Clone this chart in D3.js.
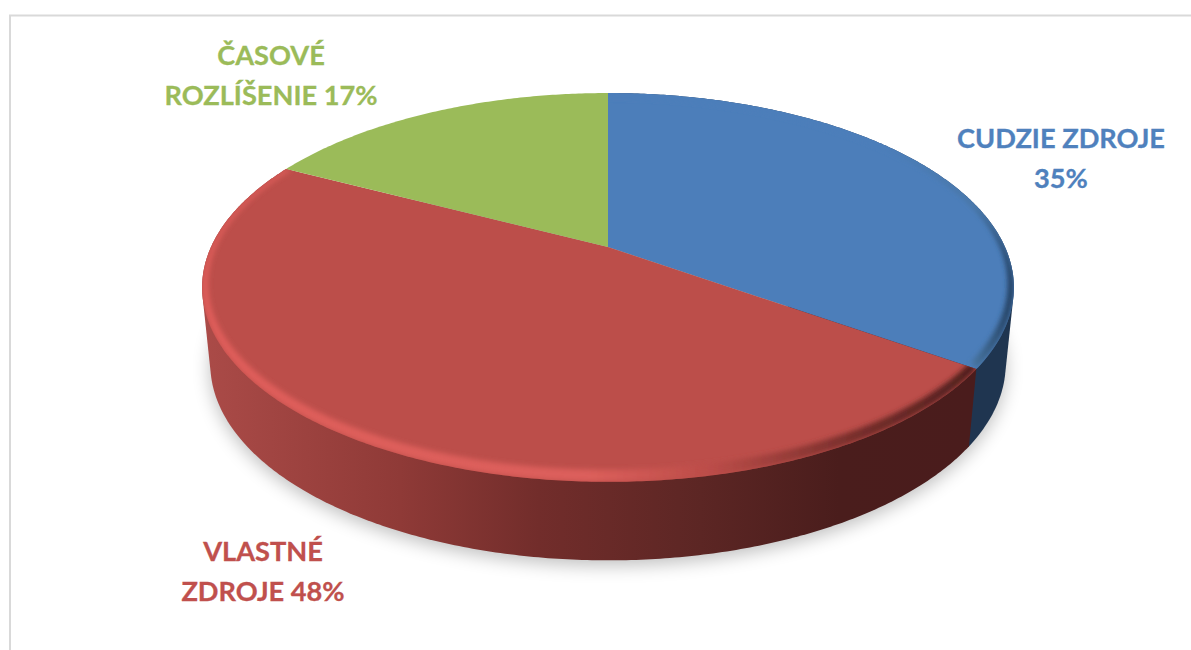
<!DOCTYPE html>
<html>
<head>
<meta charset="utf-8">
<script src="https://cdn.jsdelivr.net/npm/d3@7"></script>
<style>
  html, body { margin: 0; padding: 0; background: #fff; overflow: hidden; }
  text { font-family: Lato, "Open Sans", sans-serif; font-weight: 700; font-size: 27.2px; text-anchor: middle; stroke-width: 0.3px; }
</style>
</head>
<body>
<div id="chart-container"></div>
<script>
const categories = ["CUDZIE ZDROJE", "VLASTNÉ ZDROJE", "ČASOVÉ ROZLÍŠENIE"];
const values = [34.8, 47.8, 17.4];
const labelLines = [["CUDZIE ZDROJE", "35%"], ["VLASTNÉ", "ZDROJE 48%"], ["ČASOVÉ", "ROZLÍŠENIE 17%"]];

const colors = ["#4c7eba", "#bc4e4a", "#9bbb59"];
const textColors = ["#4f81bd", "#c0504d", "#9bbb59"];
const labelPos = [[1061, 148], [263, 561], [271, 65]];

const width = 1191, height = 650;

const svg = d3.select("#chart-container").append("svg")
  .attr("width", width)
  .attr("height", height);

const defs = svg.append("defs");

// chart frame, runs off the page on the right and bottom
svg.append("rect")
  .attr("x", 10).attr("y", 15.5)
  .attr("width", width + 20).attr("height", height + 20)
  .attr("fill", "#fff")
  .attr("stroke", "#d9d9d9")
  .attr("stroke-width", 2);

// disk seen in perspective: v runs from back (-1) to front (1)
const persp = 0.208;
const topDisk = { x: 608, y: 247, a: 397, b: 186 };
const innerDisk = { x: 608, y: 245, a: 391, b: 178 };
const bottomDisk = { x: 608, y: 323, a: 389, b: 188 };

function project(disk, angle) {
  const u = Math.sin(angle), v = -Math.cos(angle);
  const w = 1 - persp * v;
  return [disk.x + disk.a * u / w, disk.y + disk.b * v / w];
}

function rim(disk, a0, a1) {
  const n = Math.max(2, Math.ceil((a1 - a0) / 0.01));
  return d3.range(n + 1).map(i => project(disk, a0 + (a1 - a0) * i / n));
}

const line = d3.line();
const arcs = d3.pie().sort(null).value(d => d)(values);

function gradient(id, x1, x2, stops) {
  const g = defs.append("linearGradient")
    .attr("id", id)
    .attr("gradientUnits", "userSpaceOnUse")
    .attr("x1", x1).attr("x2", x2).attr("y1", 0).attr("y2", 0);
  stops.forEach(s => g.append("stop").attr("offset", s[0]).attr("stop-color", s[1]));
}

gradient("wall-1", 200, 970, [[0, "#ab4b48"], [0.26, "#8f3a37"], [0.44, "#722d2b"], [0.65, "#5c2624"], [0.83, "#4a1d1c"], [1, "#4a1c1c"]]);
gradient("rim-1", 200, 975, [[0, "#df5d5a"], [0.5, "#dc5f5b"], [0.66, "#bb4c48"], [0.85, "#752d2a"], [1, "#4e1e1d"]]);
gradient("rim-0", 880, 1014, [[0, "#4c7eba"], [0.7, "#47749f"], [1, "#1f3a5a"]]);

defs.append("filter").attr("id", "soft")
  .attr("x", "-10%").attr("y", "-10%").attr("width", "120%").attr("height", "120%")
  .append("feGaussianBlur").attr("stdDeviation", 9);
defs.append("filter").attr("id", "bevel")
  .attr("x", "-10%").attr("y", "-10%").attr("width", "120%").attr("height", "120%")
  .append("feGaussianBlur").attr("stdDeviation", 2.4);

// soft shadow under the pie
svg.append("path")
  .attr("d", line(rim(bottomDisk, 0, 2 * Math.PI)) + "Z")
  .attr("transform", "translate(0,5)")
  .attr("fill", "#000")
  .attr("opacity", 0.25)
  .attr("filter", "url(#soft)");

// outer wall as a hull so the sides run straight down from the top rim
const wallFill = ["#1f3550", "url(#wall-1)"];
[0, 1].forEach(i => {
  const a = arcs[i];
  const pts = rim(topDisk, a.startAngle, a.endAngle)
    .concat(rim(bottomDisk, a.startAngle, a.endAngle));
  svg.append("path")
    .attr("d", line(d3.polygonHull(pts)) + "Z")
    .attr("fill", wallFill[i]);
});

// top faces
const slicePoints = a => [[topDisk.x, topDisk.y]].concat(rim(topDisk, a.startAngle, a.endAngle));

arcs.forEach((a, i) => {
  svg.append("path")
    .attr("d", line(slicePoints(a)) + "Z")
    .attr("fill", colors[i]);
});

// bevel: crescent between the rim and a smaller disk, thickest at the front
arcs.slice(0, 2).forEach((a, i) => {
  defs.append("clipPath").attr("id", `top-clip-${i}`)
    .append("path").attr("d", line(slicePoints(a)) + "Z");
  const pts = rim(topDisk, a.startAngle, a.endAngle)
    .concat(rim(innerDisk, a.startAngle, a.endAngle).reverse());
  svg.append("g")
    .attr("clip-path", `url(#top-clip-${i})`)
    .append("path")
    .attr("d", line(pts) + "Z")
    .attr("fill", `url(#rim-${i})`)
    .attr("filter", "url(#bevel)");
});

svg.selectAll("g.label")
  .data(categories)
  .join("g")
  .attr("class", "label")
  .each(function(d, i) {
    d3.select(this).selectAll("text")
      .data(labelLines[i])
      .join("text")
      .attr("x", labelPos[i][0])
      .attr("y", (t, j) => labelPos[i][1] + j * 40)
      .attr("fill", textColors[i])
      .attr("stroke", textColors[i])
      .text(t => t);
  });
</script>
</body>
</html>
